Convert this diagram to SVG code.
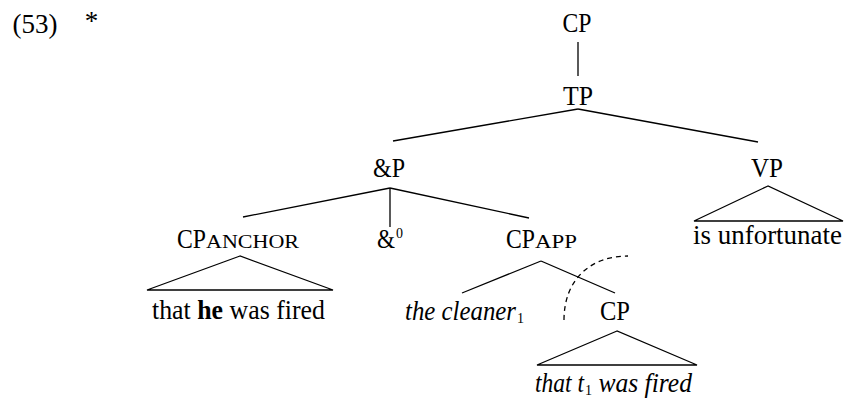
<svg xmlns="http://www.w3.org/2000/svg" width="845" height="399" viewBox="0 0 845 399">
<style>
text{font-family:"Liberation Serif","Times New Roman",serif;font-size:27px;fill:#000}
.sc{font-size:19.5px}
.it{font-style:italic}
.sub{font-size:14px}
.e{stroke:#000;stroke-width:1.3;fill:none}
</style>
<rect width="845" height="399" fill="#fff"/>
<g id="label">
<text x="12.5" y="33" textLength="45" lengthAdjust="spacingAndGlyphs">(53)</text>
<text x="91.5" y="30" text-anchor="middle" font-size="22">*</text>
</g>
<g id="connectors" class="e">
<line x1="578" y1="42" x2="578" y2="76"/>
<line x1="578" y1="109" x2="393" y2="141"/>
<line x1="578" y1="109" x2="758" y2="142"/>
<line x1="390" y1="188" x2="243" y2="217"/>
<line x1="390" y1="188" x2="390" y2="227"/>
<line x1="390" y1="188" x2="529" y2="218"/>
<line x1="541" y1="261" x2="462" y2="293"/>
<line x1="541" y1="261" x2="615" y2="293"/>
<polygon points="240,256 147,290 333,290"/>
<polygon points="768,186 694,221 843,221"/>
<polygon points="617,331 537,365 697,365"/>
<path d="M564,320 C564,280 590,256 628,256" stroke-dasharray="5,4"/>
</g>
<g id="n-cp"><text x="577" y="32" text-anchor="middle" textLength="29" lengthAdjust="spacingAndGlyphs">CP</text></g>
<g id="n-tp"><text x="578" y="105" text-anchor="middle" textLength="30" lengthAdjust="spacingAndGlyphs">TP</text></g>
<g id="n-andp"><text x="389" y="177" text-anchor="middle" textLength="32" lengthAdjust="spacingAndGlyphs">&amp;P</text></g>
<g id="n-vp"><text x="767" y="177" text-anchor="middle" textLength="32" lengthAdjust="spacingAndGlyphs">VP</text></g>
<g id="n-vp-yield"><text x="693" y="244" textLength="149" lengthAdjust="spacingAndGlyphs">is unfortunate</text></g>
<g id="n-cpanchor"><text x="177" y="248"><tspan textLength="29" lengthAdjust="spacingAndGlyphs">CP</tspan><tspan class="sc" textLength="93" lengthAdjust="spacingAndGlyphs">ANCHOR</tspan></text></g>
<g id="n-and0"><text x="377" y="248"><tspan textLength="18" lengthAdjust="spacingAndGlyphs">&amp;</tspan><tspan font-size="14" dx="1" dy="-10">0</tspan></text></g>
<g id="n-cpapp"><text x="506" y="248"><tspan textLength="29" lengthAdjust="spacingAndGlyphs">CP</tspan><tspan class="sc" textLength="42" lengthAdjust="spacingAndGlyphs">APP</tspan></text></g>
<g id="n-anchor-yield"><text x="152" y="319" textLength="173" lengthAdjust="spacingAndGlyphs">that <tspan font-weight="bold">he</tspan> was fired</text></g>
<g id="n-cleaner"><text x="405" y="320" class="it"><tspan textLength="111" lengthAdjust="spacingAndGlyphs">the cleaner</tspan><tspan class="sub" font-style="normal" dx="1" dy="3">1</tspan></text></g>
<g id="n-cp2"><text x="615" y="320" text-anchor="middle" textLength="30" lengthAdjust="spacingAndGlyphs">CP</text></g>
<g id="n-cp2-yield"><text x="535" y="392" class="it"><tspan textLength="49" lengthAdjust="spacingAndGlyphs">that t</tspan><tspan class="sub" font-style="normal" dx="1" dy="3">1</tspan><tspan dy="-3" textLength="100" lengthAdjust="spacingAndGlyphs"> was fired</tspan></text></g>
</svg>
